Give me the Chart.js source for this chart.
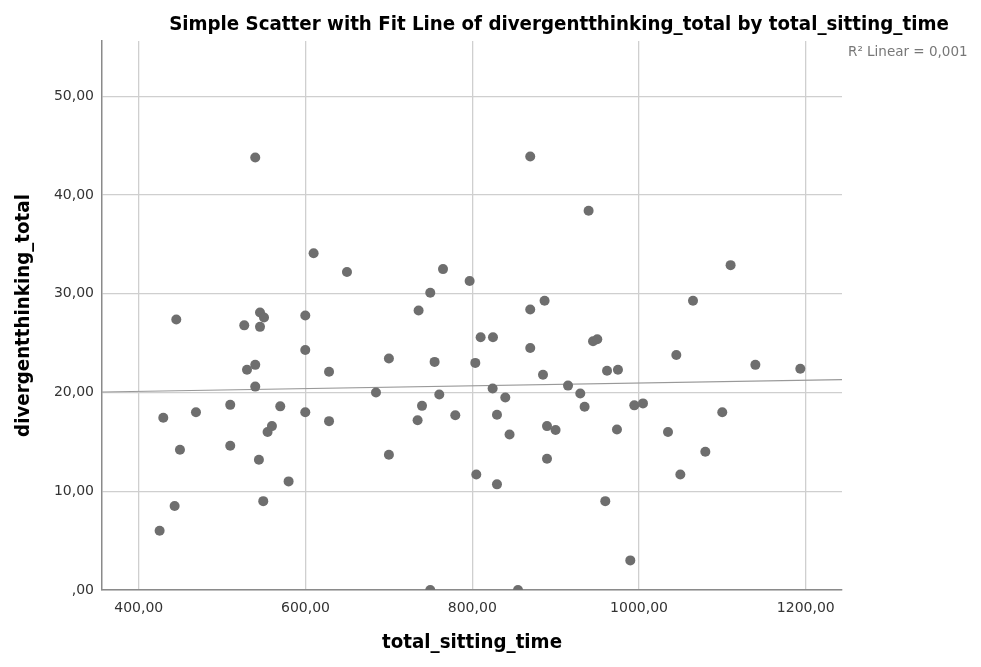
<!DOCTYPE html>
<html>
<head>
<meta charset="utf-8">
<script src="https://cdn.jsdelivr.net/npm/chart.js@4/dist/chart.umd.min.js"></script>
<style>
  html, body { margin: 0; padding: 0; background: #fff; }
  #wrap { width: 981px; height: 667px; }
</style>
</head>
<body>
<div id="wrap"><canvas id="chart"></canvas></div>
<script>
// ===============================
// DATOS
// ===============================
const sittingTime = [
  425, 429.4, 443, 445, 449.4, 468.6, 509.7, 509.7, 526.5, 529.8,
  539.7, 539.7, 539.7, 545.4, 550.2, 545.4, 544.1, 549.3, 554.5, 559.7,
  569.7, 579.7, 599.7, 599.7, 599.7, 609.7, 628.2, 628.2, 649.7, 684.5,
  700, 700, 734.4, 735.6, 739.7, 749.6, 749.6, 754.8, 760.4, 764.9,
  779.6, 796.8, 803.6, 804.8, 810, 824.8, 824.4, 829.6, 829.6, 839.6,
  844.7, 854.8, 869.5, 869.5, 869.5, 884.8, 886.7, 889.6, 889.6, 899.9,
  914.8, 929.5, 934.7, 939.5, 944.8, 949.9, 959.5, 961.6, 973.5, 974.7,
  989.5, 994.3, 1004.7, 1034.7, 1044.7, 1049.5, 1064.7, 1079.5, 1099.8, 1109.8,
  1139.5, 1193.4,
];
const divergentThinking = [
  6.0, 17.45, 8.5, 27.4, 14.2, 18.0, 18.75, 14.6, 26.8, 22.3,
  22.8, 20.6, 43.8, 28.1, 27.6, 26.65, 13.2, 9.0, 16.0, 16.6,
  18.6, 11.0, 27.8, 24.3, 18.0, 34.1, 22.1, 17.1, 32.2, 20.0,
  23.45, 13.7, 17.2, 28.3, 18.65, 30.1, 0, 23.1, 19.8, 32.5,
  17.7, 31.3, 23.0, 11.7, 25.6, 25.6, 20.4, 17.75, 10.7, 19.5,
  15.75, 0, 43.9, 28.4, 24.5, 21.8, 29.3, 16.6, 13.3, 16.2,
  20.7, 19.9, 18.55, 38.4, 25.2, 25.4, 9.0, 22.2, 16.25, 22.3,
  3.0, 18.7, 18.9, 16.0, 23.8, 11.7, 29.3, 14.0, 18.0, 32.9,
  22.8, 22.4,
];

// linea de ajuste (extremos)
const fitX = [355.9, 1243.4];
const fitY = [20.05, 21.3];

const xTicks = [400, 600, 800, 1000, 1200];
const yTicks = [0, 10, 20, 30, 40, 50];

const titulo = "Simple Scatter with Fit Line of divergentthinking_total by total_sitting_time";
const etiquetaR2 = "R\u00B2 Linear = 0,001";
const tituloX = "total_sitting_time";
const tituloY = "divergentthinking_total";

const fuenteTitulo = "'Liberation Sans Narrow', 'DejaVu Sans Condensed', sans-serif";
const fuenteTicks = "'DejaVu Sans', sans-serif";

// formato SPSS: 0 -> ",00", 400 -> "400,00"
function formatoComa(v) {
  if (v === 0) return ",00";
  return v.toFixed(2).replace(".", ",");
}

// ===============================
// TEXTOS EXTRA
// ===============================
const textosExtra = {
  id: "textosExtra",
  afterDraw(chart) {
    const ctx = chart.ctx;
    ctx.save();
    ctx.fillStyle = "#000";
    ctx.font = "bold 20.3px " + fuenteTitulo;
    ctx.textAlign = "center";
    ctx.textBaseline = "middle";
    ctx.fillText(titulo, 559, 25);

    ctx.fillStyle = "#777";
    ctx.font = "13.5px " + fuenteTicks;
    ctx.textAlign = "left";
    ctx.fillText(etiquetaR2, 848, 52);
    ctx.restore();
  },
};

// ===============================
// GRAFICO
// ===============================
new Chart(document.getElementById("chart"), {
  type: "scatter",
  data: {
    datasets: [
      {
        label: "Fit",
        type: "line",
        data: fitX.map((x, i) => ({ x, y: fitY[i] })),
        borderColor: "#999999",
        borderWidth: 1.2,
        pointRadius: 0,
        fill: false,
        order: 2,
      },
      {
        label: "Datos",
        data: sittingTime.map((x, i) => ({ x, y: divergentThinking[i] })),
        backgroundColor: "#6e6e6e",
        borderColor: "#6e6e6e",
        borderWidth: 0,
        pointRadius: 5,
        pointHoverRadius: 5,
        clip: 0,
        order: 1,
      },
    ],
  },
  options: {
    responsive: true,
    maintainAspectRatio: false,
    animation: false,
    layout: { padding: { top: 41, right: 139, left: 0, bottom: 0 } },
    plugins: {
      legend: { display: false },
      tooltip: { enabled: false },
      title: { display: false },
    },
    scales: {
      x: {
        type: "linear",
        min: fitX[0],
        max: fitX[1],
        afterBuildTicks: (s) => { s.ticks = xTicks.map((v) => ({ value: v })); },
        afterFit: (s) => { s.height = 77; },
        grid: { color: "#cfcfcf", lineWidth: 1.3, drawTicks: false },
        border: { color: "#8a8a8a", width: 1.5 },
        ticks: {
          padding: 10,
          color: "#333",
          font: { family: fuenteTicks, size: 14 },
          callback: (v) => formatoComa(v),
        },
        title: {
          display: true,
          text: tituloX,
          color: "#000",
          font: { family: fuenteTitulo, size: 20.3, weight: "bold" },
          padding: { top: 0, bottom: 12 },
        },
      },
      y: {
        type: "linear",
        min: 0,
        max: 55.6,
        afterBuildTicks: (s) => { s.ticks = yTicks.map((v) => ({ value: v })); },
        afterFit: (s) => { s.width = 102; },
        grid: { color: "#cfcfcf", lineWidth: 1.3, drawTicks: false },
        border: { color: "#8a8a8a", width: 1.5 },
        ticks: {
          padding: 8,
          color: "#333",
          font: { family: fuenteTicks, size: 14 },
          callback: (v) => formatoComa(v),
        },
        title: {
          display: true,
          text: tituloY,
          color: "#000",
          font: { family: fuenteTitulo, size: 20.3, weight: "bold" },
          padding: { top: 12, bottom: 0 },
        },
      },
    },
  },
  plugins: [textosExtra],
});
</script>
</body>
</html>
